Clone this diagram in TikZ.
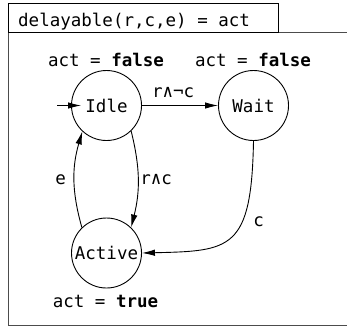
\documentclass[tikz,border=0pt]{standalone}
\usepackage{fontspec}
\setmonofont{DejaVu Sans Mono}
\usetikzlibrary{arrows.meta}
\begin{document}
\begin{tikzpicture}[x=1pt,y=-1pt,
  font=\ttfamily\fontsize{17.5}{20}\selectfont,
  state/.style={draw, circle, minimum size=70pt, inner sep=0pt, line width=0.9pt},
  edge/.style={-{Latex[length=13pt,width=6.5pt]}, line width=0.9pt},
  lbl/.style={inner sep=0pt},
  frameline/.style={draw=black!70, line width=1pt}]
\useasboundingbox (0,0) rectangle (347,327);
\draw[frameline] (347,32) -- (8,32) -- (8,325) -- (347,325);
\draw[line width=1pt] (8,3) rectangle (278,32);
\node[lbl, anchor=base west] (title) at (18,26.5) {delayable(r,c,e) = act};

\node[state] (idle) at (106.5,105.5) {Idle};
\node[state] (wait) at (253.5,105.5) {Wait};
\node[state] (active) at (106.5,253) {Active};

\node[lbl, anchor=base] (idleout) at (106,66) {act = \textbf{false}};
\node[lbl, anchor=base] (waitout) at (253,66) {act = \textbf{false}};
\node[lbl, anchor=base] (activeout) at (105.5,307) {act = \textbf{true}};

\coordinate (start) at (57,105.5);
\draw[edge] (start) -- ([xshift=10pt]idle.west);
\draw[edge] (idle) -- (wait) node[lbl, pos=0.41, anchor=south, yshift=7pt] {r∧¬c};
\draw[edge] (active.134) to[bend left=16] node[lbl, anchor=east, xshift=-8pt] {e} (idle.227);
\draw[edge] (idle.-46) to[bend left=14] node[lbl, anchor=west, xshift=2pt] {r∧c} (active.46);
\draw[edge] (wait.south) .. controls +(-2,109) and +(89,-2) .. node[lbl, pos=0.36, anchor=west, xshift=11pt] {c} (active.east);
\end{tikzpicture}
\end{document}
